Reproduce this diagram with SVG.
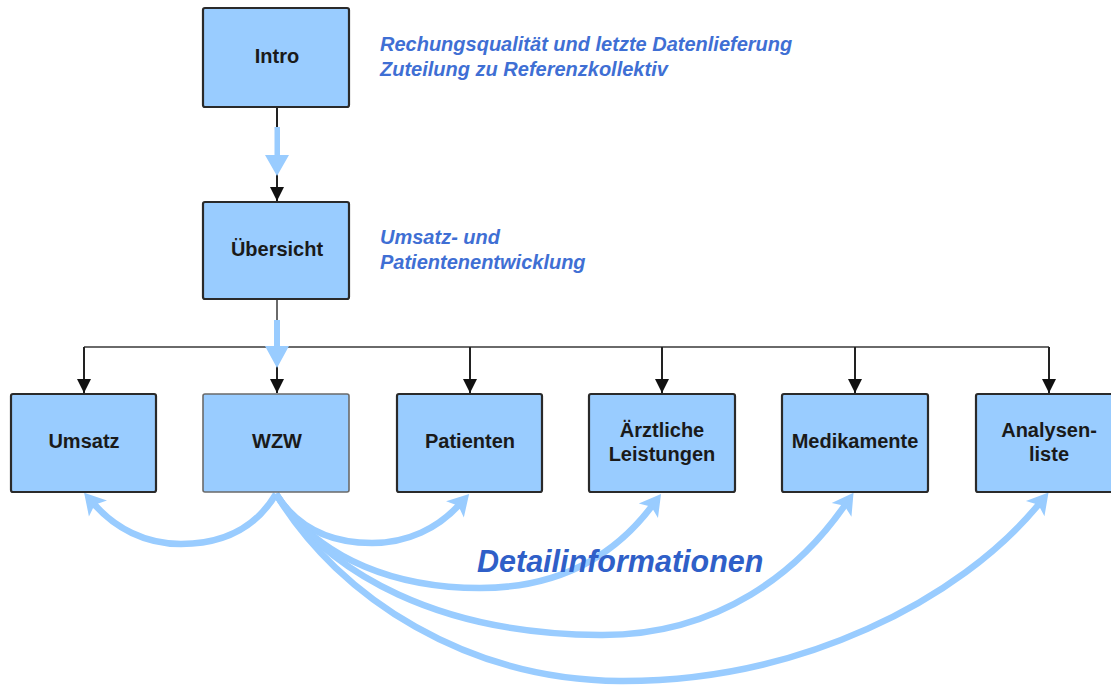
<svg xmlns="http://www.w3.org/2000/svg" width="1111" height="685" viewBox="0 0 1111 685">
<style>
.box{fill:#99ccff;stroke:#2a2a2a;stroke-width:2.2}
.boxl{fill:#99ccff;stroke:#6a6a6a;stroke-width:1.6}
.lbl{font-family:"Liberation Sans",Arial,sans-serif;font-weight:bold;font-size:20px;fill:#1a1a1a;text-anchor:middle}
.note{font-family:"Liberation Sans",Arial,sans-serif;font-weight:bold;font-style:italic;font-size:20px;fill:#3f6fd4}
.big{font-family:"Liberation Sans",Arial,sans-serif;font-weight:bold;font-style:italic;font-size:30.5px;fill:#2f5fc8}
.blk{fill:none;stroke:#222;stroke-width:2}
.bus{fill:none;stroke:#6a6a6a;stroke-width:2}
.curve{fill:none;stroke:#99ccff;stroke-width:6.5}
.lb{fill:#99ccff}
</style>
<defs>
<marker id="ah" markerUnits="userSpaceOnUse" markerWidth="16" markerHeight="16" refX="15" refY="8" orient="auto" viewBox="0 0 16 16">
<path d="M1,1 L15,8 L1,15 Z" fill="#111"/>
</marker>
<marker id="bh" markerUnits="userSpaceOnUse" markerWidth="40" markerHeight="40" refX="10" refY="20" orient="auto" viewBox="0 0 40 40">
<path d="M4,8 L25,20 L4,32 L9,20 Z" fill="#99ccff"/>
</marker>
</defs>

<g id="connectors">
<line class="blk" x1="277" y1="107" x2="277" y2="201" marker-end="url(#ah)"/>
<line class="bus" x1="277" y1="299" x2="277" y2="347"/>
<polyline class="bus" points="84,347 1049,347"/>
<line class="blk" x1="84" y1="347" x2="84" y2="393" marker-end="url(#ah)"/>
<line class="blk" x1="277" y1="347" x2="277" y2="393" marker-end="url(#ah)"/>
<line class="blk" x1="470" y1="347" x2="470" y2="393" marker-end="url(#ah)"/>
<line class="blk" x1="662" y1="347" x2="662" y2="393" marker-end="url(#ah)"/>
<line class="blk" x1="855" y1="347" x2="855" y2="393" marker-end="url(#ah)"/>
<line class="blk" x1="1049" y1="347" x2="1049" y2="393" marker-end="url(#ah)"/>
<path class="lb" d="M274.5,127 L280,127 L280,155 L289,155 L277,176 L265,155 L274.5,155 Z"/>
<path class="lb" d="M274,320 L280,320 L280,346 L289,346 L277,368 L265,346 L274,346 Z"/>
<path class="curve" d="M276,494 C255,529 222,544 181,544 C145,544 115,528 94,504" marker-end="url(#bh)"/>
<path class="curve" d="M276,494 C298,529 332,543 372,543 C408,543 438,528 459,505" marker-end="url(#bh)"/>
<path class="curve" d="M276,494 C320,562 400,588 480,588 C560,588 615,555 652,506" marker-end="url(#bh)"/>
<path class="curve" d="M276,494 C330,575 440,634 600,635 C720,636 800,570 845,505" marker-end="url(#bh)"/>
<path class="curve" d="M276,494 C340,600 470,680 620,681 C800,682 960,600 1039,504" marker-end="url(#bh)"/>
</g>

<g id="intro">
<rect class="box" x="203" y="8" width="146" height="99" rx="2"/>
<text class="lbl" x="277" y="63">Intro</text>
</g>
<g id="uebersicht">
<rect class="box" x="203" y="202" width="146" height="97" rx="2"/>
<text class="lbl" x="277" y="256">Übersicht</text>
</g>
<g id="umsatz">
<rect class="box" x="11" y="394" width="145" height="98" rx="2"/>
<text class="lbl" x="84" y="448">Umsatz</text>
</g>
<g id="wzw">
<rect class="boxl" x="203" y="394" width="146" height="98" rx="2"/>
<text class="lbl" x="277" y="448">WZW</text>
</g>
<g id="patienten">
<rect class="box" x="397" y="394" width="145" height="98" rx="2"/>
<text class="lbl" x="470" y="448">Patienten</text>
</g>
<g id="aerztliche">
<rect class="box" x="589" y="394" width="146" height="98" rx="2"/>
<text class="lbl" x="662" y="437">Ärztliche</text>
<text class="lbl" x="662" y="461">Leistungen</text>
</g>
<g id="medikamente">
<rect class="box" x="782" y="394" width="146" height="98" rx="2"/>
<text class="lbl" x="855" y="448">Medikamente</text>
</g>
<g id="analysen">
<rect class="box" x="976" y="394" width="146" height="98" rx="2"/>
<text class="lbl" x="1049" y="437">Analysen-</text>
<text class="lbl" x="1049" y="461">liste</text>
</g>

<g id="notes">
<text class="note" x="380" y="51">Rechungsqualität und letzte Datenlieferung</text>
<text class="note" x="380" y="76">Zuteilung zu Referenzkollektiv</text>
<text class="note" x="380" y="244">Umsatz- und</text>
<text class="note" x="380" y="269">Patientenentwicklung</text>
<text class="big" x="477" y="572">Detailinformationen</text>
</g>
</svg>
